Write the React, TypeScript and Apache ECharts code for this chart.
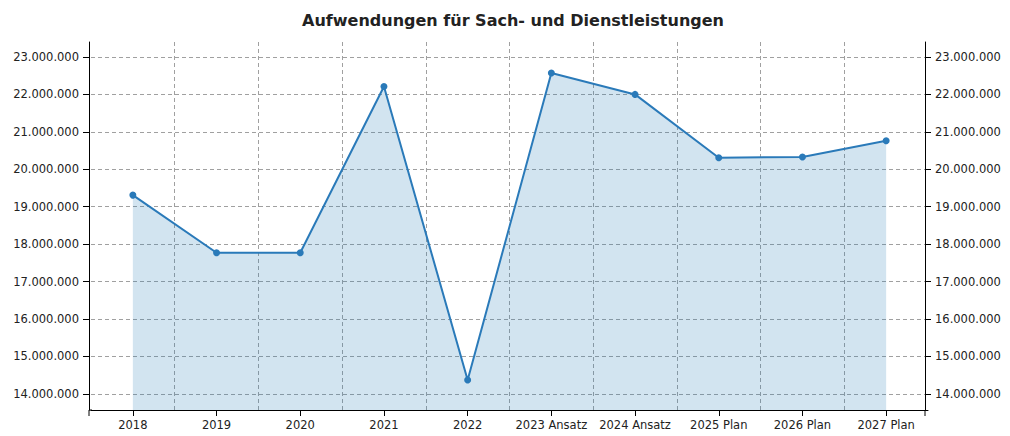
import React, { useEffect, useRef } from "react";
import * as echarts from "echarts";

const categories = [
  "2018",
  "2019",
  "2020",
  "2021",
  "2022",
  "2023 Ansatz",
  "2024 Ansatz",
  "2025 Plan",
  "2026 Plan",
  "2027 Plan",
];
const values = [
  19310000, 17770000, 17770000, 22210000, 14370000, 22570000, 22000000, 20310000, 20330000, 20760000,
];
const title = "Aufwendungen für Sach- und Dienstleistungen";
const yMin = 13570000;
const yMax = 23400000;
const yStep = 1000000;

const fmt = (v: number) => Math.round(v).toString().replace(/\B(?=(\d{3})+(?!\d))/g, ".");

export default function App() {
  const ref = useRef<HTMLDivElement>(null);
  useEffect(() => {
    if (!ref.current) return;
    const chart = echarts.init(ref.current, undefined, { renderer: "svg" });
    const font = "DejaVu Sans";
    const axisColor = "#000";
    const labelStyle = { color: "#222", fontFamily: font, fontSize: 11.5 };
    const yCommon = {
      type: "value" as const,
      min: yMin,
      max: yMax,
      minInterval: yStep,
      maxInterval: yStep,
      axisLine: { show: true, lineStyle: { color: axisColor, width: 1 } },
      axisTick: { show: true, length: 6, lineStyle: { color: axisColor } },
      axisLabel: { ...labelStyle, formatter: fmt, showMinLabel: false, showMaxLabel: false, margin: 10 },
    };
    chart.setOption({
      animation: false,
      backgroundColor: "#fff",
      title: {
        text: title,
        left: 508,
        textAlign: "center",
        top: 7,
        textStyle: { fontFamily: font, fontSize: 16, fontWeight: "bold", color: "#222" },
      },
      grid: { left: 91, right: 82, top: 42, bottom: 26, containLabel: false },
      xAxis: {
        type: "category",
        data: categories,
        boundaryGap: true,
        axisLine: { show: true, lineStyle: { color: axisColor, width: 1 } },
        axisTick: { show: true, alignWithLabel: true, length: 6, lineStyle: { color: axisColor } },
        axisLabel: { ...labelStyle, margin: 9, interval: 0 },
        splitLine: {
          show: true,
          showMinLine: false,
          showMaxLine: false,
          lineStyle: { color: "#a0a0a0", type: [4, 3], width: 1 },
        },
      },
      yAxis: [
        {
          ...yCommon,
          position: "left",
          offset: 2,
          splitLine: {
            show: true,
            showMinLine: false,
            showMaxLine: false,
            lineStyle: { color: "#a0a0a0", type: [4, 3], width: 1 },
          },
        },
        {
          ...yCommon,
          position: "right",
          offset: -3,
          splitLine: { show: false },
        },
      ],
      graphic: [
        { type: "line", shape: { x1: 89, y1: 410, x2: 92, y2: 410 }, style: { stroke: axisColor, lineWidth: 1 } },
        { type: "line", shape: { x1: 89, y1: 410, x2: 89, y2: 416 }, style: { stroke: axisColor, lineWidth: 1 } },
        { type: "line", shape: { x1: 925, y1: 410, x2: 925, y2: 416 }, style: { stroke: axisColor, lineWidth: 1 } },
      ],
      series: [
        {
          type: "line",
          data: values,
          yAxisIndex: 0,
          symbol: "circle",
          symbolSize: 7,
          showSymbol: true,
          lineStyle: { color: "#2a7ab9", width: 2 },
          itemStyle: { color: "#2a7ab9" },
          areaStyle: { color: "rgba(31,119,180,0.2)", opacity: 1, origin: "start" },
        },
      ],
    });
    return () => chart.dispose();
  }, []);
  return <div ref={ref} style={{ width: 1010, height: 436, position: "absolute", left: 0, top: 0 }} />;
}
